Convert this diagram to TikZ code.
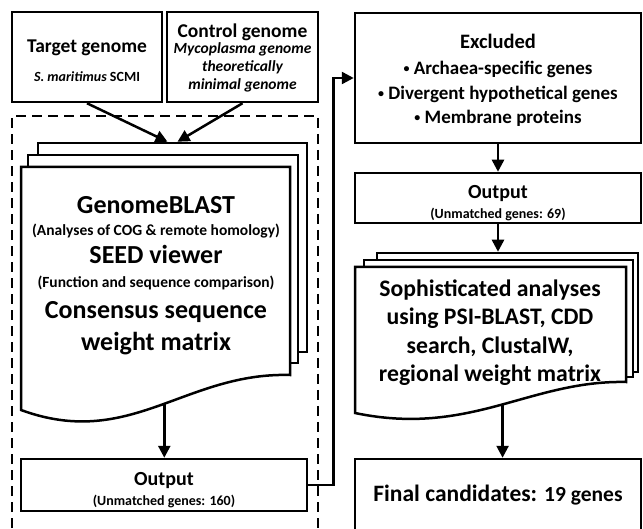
\documentclass[tikz,border=0pt]{standalone}
\usepackage{fontspec}
\setmainfont{Carlito}
\usetikzlibrary{arrows.meta,calc}
\newcommand\setfs[2]{\fontsize{#1}{#2}\selectfont}
\newcommand\lift[1]{\rule{0pt}{#1pt}}
\newcommand\dotitem{\raisebox{2.5pt}{\setfs{12}{12}•}~}
\lineskiplimit=-\maxdimen

\begin{document}
\begin{tikzpicture}[x=1pt,y=-1pt,
    frm/.style={draw,line width=2.5pt,fill=white,inner sep=0pt},
    box/.style={frm,align=center},
    page/.style={draw,line width=2.5pt,fill=white},
    arr/.style={line width=2.5pt,-{Triangle[length=12pt,width=12pt]}},
    frame/.style={line width=2.5pt,dash pattern=on 10pt off 6pt}]
  \clip (0,0) rectangle (643,529);
  \draw[frame] (12,560) -- (12,116) -- (318,116) -- (318,560);

  \node[box,minimum width=150,minimum height=90,font=\bfseries\setfs{14}{29}] (tgt) at (87,57)
    {\setfs{19.5}{20}\lift{21}Target genome\\ \textit{S. maritimus} SCMI};
  \node[frm,minimum width=151,minimum height=90,font=\bfseries\setfs{15.5}{18}] (ctl) at (242.5,57)
    {\lineskiplimit=0pt
     \begin{tabular}{@{}c@{}}
       \setfs{19.5}{20}\lift{18.3}Control genome\\[-2pt]
       \itshape Mycoplasma genome\\ \itshape theoretically\\ \itshape minimal genome
     \end{tabular}};

  \node[page,minimum width=269,minimum height=209] (docA3) at (172.5,247.5) {};
  \node[page,minimum width=270,minimum height=208] (docA2) at (163,259) {};
  \draw[page] (21,167) -- (290,167) -- (290,375)
    .. controls (185,372) and (130,450) .. (21,410) coordinate[pos=0.47] (docAbot) -- cycle;
  \node[align=center,font=\bfseries\setfs{26}{22}] (docA) at (156,275.7)
    {GenomeBLAST\\ \setfs{15.5}{16}(Analyses of COG \& remote homology)\\[6pt]
     SEED viewer\\[2pt] \setfs{15.5}{16}(Function and sequence comparison)\\[9pt]
     Consensus sequence\\[10pt] weight matrix};

  \node[box,minimum width=286,minimum height=52,font=\bfseries\setfs{14}{20}] (out1) at (164,485)
    {\setfs{20}{20}\lift{23.5}Output\\ (Unmatched genes: 160)};

  \node[box,minimum width=286,minimum height=130,font=\bfseries\setfs{19}{25}] (excl) at (498,78)
    {\setfs{20.5}{20}\lift{19.2}Excluded\\[1pt] \dotitem Archaea-specific genes\\
     \dotitem Divergent hypothetical genes\\[-1pt] \dotitem Membrane proteins};
  \node[box,minimum width=286,minimum height=50,font=\bfseries\setfs{14}{20}] (out2) at (498,198)
    {\setfs{20}{20}\lift{23.5}Output\\ (Unmatched genes: 69)};

  \node[page,minimum width=261,minimum height=119] (docB3) at (507.5,312.5) {};
  \node[page,minimum width=269,minimum height=117] (docB2) at (498.5,318.5) {};
  \draw[page] (355,267) -- (626,267) -- (626,382)
    .. controls (530,380) and (470,437) .. (355,413) coordinate[pos=0.48] (docBbot) -- cycle;
  \node[align=center,font=\bfseries\setfs{23.7}{28.5}] (docB) at (490,332.5)
    {Sophisticated analyses\\ using PSI-BLAST, CDD\\
     search, ClustalW,\\ regional weight matrix};

  \node[box,minimum width=286,minimum height=72,font=\bfseries\setfs{23.5}{24}] (final) at (498,495)
    {Final candidates: {\setfs{21.5}{22}19 genes}};

  \draw[arr] (tgt.south) -- ($(docA3.north)+(-5,0)$);
  \draw[arr] (ctl.south) -- ($(docA3.north)+(5,0)$);
  \draw[arr] (docAbot) -- (docAbot |- out1.north);
  \draw[arr] (out1.east) -- ++(25,0) |- (excl.west);
  \draw[arr] (excl.south) -- (out2.north);
  \draw[arr] (out2.south) -- (out2.south |- docB3.north);
  \draw[arr] (docBbot) -- (docBbot |- final.north);
\end{tikzpicture}
\end{document}
